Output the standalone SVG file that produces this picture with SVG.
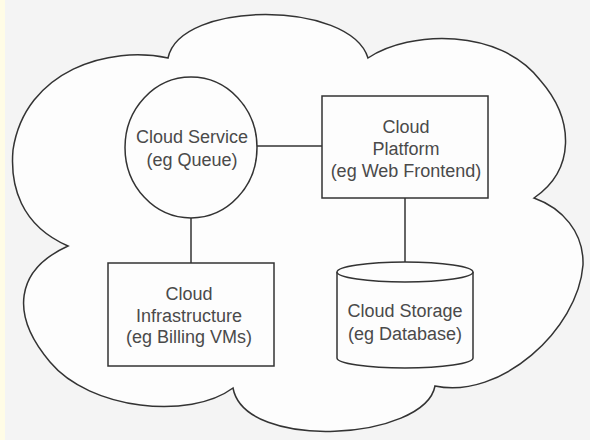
<svg xmlns="http://www.w3.org/2000/svg" width="590" height="440" viewBox="0 0 590 440">
  <style>
    .shape { fill: #fdfdfd; stroke: #333333; stroke-width: 1.5; }
    .link { fill: none; stroke: #333333; stroke-width: 1.5; }
    .label { font-family: "Liberation Sans", Arial, sans-serif; font-size: 18px; fill: #4a4a4a; text-anchor: middle; }
  </style>

  <!-- page background with a pale margin strip on the left -->
  <rect x="0" y="0" width="590" height="440" fill="#f4f4f4"/>
  <rect x="0" y="0" width="5" height="440" fill="#fffce6"/>

  <!-- the cloud boundary -->
  <g id="cloud">
    <path class="shape" d="M168,58
      C180,0 350,0 368,58
      C410,30 500,28 540,80
      C575,120 575,170 534,198
      C562,208 584,232 583,265
      C578,330 500,400 435,386
      C425,440 245,452 233,388
      C190,420 90,410 50,362
      C10,315 15,270 68,246
      C20,225 10,185 13,150
      C25,70 110,45 168,58 Z"/>
  </g>

  <!-- connectors -->
  <g id="connectors">
    <line class="link" x1="257" y1="146" x2="322" y2="146"/>
    <line class="link" x1="191" y1="218" x2="191" y2="263"/>
    <line class="link" x1="405" y1="198" x2="405" y2="262"/>
  </g>

  <g id="cloud-service">
    <ellipse class="shape" cx="191" cy="147.5" rx="66" ry="70.5"/>
    <text class="label" x="192" y="143">Cloud Service</text>
    <text class="label" x="192" y="166">(eg Queue)</text>
  </g>

  <g id="cloud-platform">
    <rect class="shape" x="322" y="96" width="166" height="102"/>
    <text class="label" x="406" y="133">Cloud</text>
    <text class="label" x="406" y="155">Platform</text>
    <text class="label" x="406" y="177">(eg Web Frontend)</text>
  </g>

  <g id="cloud-infrastructure">
    <rect class="shape" x="108" y="263" width="166" height="103"/>
    <text class="label" x="189" y="300">Cloud</text>
    <text class="label" x="189" y="322">Infrastructure</text>
    <text class="label" x="189" y="343">(eg Billing VMs)</text>
  </g>

  <g id="cloud-storage">
    <path class="shape" d="M337,272 L337,358 A68,10 0 0 0 473,358 L473,272"/>
    <ellipse class="shape" cx="405" cy="272" rx="68" ry="10"/>
    <text class="label" x="405" y="317">Cloud Storage</text>
    <text class="label" x="405" y="340">(eg Database)</text>
  </g>
</svg>
